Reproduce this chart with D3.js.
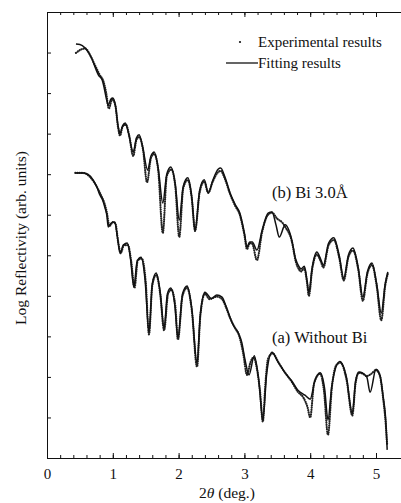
<!DOCTYPE html>
<meta charset="utf-8">
<style>
    body { margin: 0; background: #fff; }
    text { font-family: "Liberation Serif", "Times New Roman", serif; fill: #111; }
    .fit { fill: none; stroke: #111; stroke-width: 1.5px; }
    .exp { fill: none; stroke: #222; stroke-width: 2.2px; stroke-linecap: round; stroke-dasharray: 0.1 2.1; }
    .axis path, .axis line { stroke: #111; stroke-width: 1px; }
</style>
<svg id="f" width="401" height="503"></svg>
<script src="https://cdn.jsdelivr.net/npm/d3@7"></script>
<script>
    // fitting curves [2theta, log R]
    var fitB = [[0.44,10.21],[0.50,10.20],[0.58,10.11],[0.68,9.86],[0.74,9.60],[0.78,9.45],[0.84,9.32],[0.87,9.12],
        [0.90,8.88],[0.93,8.70],[0.97,8.85],[1.00,8.88],[1.04,8.70],[1.08,8.20],[1.11,8.01],[1.15,8.20],[1.19,8.26],
        [1.24,8.00],[1.31,7.55],[1.36,7.90],[1.40,7.97],[1.45,7.70],[1.53,7.10],[1.58,7.45],[1.63,7.55],[1.69,7.15],
        [1.76,6.29],[1.82,7.00],[1.88,7.18],[1.95,6.75],[2.01,5.87],[2.07,6.70],[2.14,6.91],[2.20,6.45],[2.25,5.62],
        [2.32,6.60],[2.39,6.86],[2.45,6.54],[2.52,6.85],[2.60,7.12],[2.64,7.15],[2.70,6.95],[2.78,6.55],[2.86,6.25],
        [2.93,6.04],[3.00,5.55],[3.04,5.20],[3.08,5.33],[3.12,5.33],[3.19,5.13],[3.27,5.62],[3.36,6.04],[3.42,6.07],
        [3.48,5.75],[3.53,5.45],[3.62,5.75],[3.72,5.38],[3.78,4.90],[3.83,4.72],[3.86,4.66],[3.91,4.73],[3.95,4.40],
        [3.98,4.09],[4.03,4.70],[4.10,5.08],[4.16,4.90],[4.20,4.76],[4.28,5.30],[4.36,5.43],[4.44,5.00],[4.51,4.44],
        [4.58,5.00],[4.65,5.18],[4.73,4.70],[4.80,3.97],[4.87,4.60],[4.94,4.81],[5.01,4.30],[5.08,3.58],[5.14,4.30],
        [5.18,4.59]];

    var expB = [[0.44,9.99],[0.50,10.06],[0.58,10.10],[0.66,9.92],[0.72,9.72],[0.80,9.45],[0.86,9.28],[0.90,9.00],
        [0.94,8.62],[0.99,8.85],[1.04,8.68],[1.08,8.15],[1.11,7.95],[1.15,8.18],[1.20,8.22],[1.25,7.95],[1.31,7.45],
        [1.36,7.85],[1.40,7.92],[1.46,7.60],[1.52,6.80],[1.58,7.40],[1.63,7.50],[1.69,7.10],[1.76,5.55],[1.82,6.95],
        [1.89,7.12],[1.95,6.70],[2.01,5.45],[2.07,6.65],[2.14,6.86],[2.20,6.40],[2.25,5.60],[2.32,6.55],[2.39,6.82],
        [2.45,6.54],[2.52,6.82],[2.60,7.05],[2.64,7.08],[2.70,6.90],[2.78,6.52],[2.86,6.22],[2.93,6.00],[3.00,5.50],
        [3.04,5.15],[3.08,5.30],[3.12,5.28],[3.19,4.88],[3.27,5.58],[3.36,6.00],[3.42,6.05],[3.50,5.90],[3.58,5.80],
        [3.62,5.70],[3.72,5.35],[3.78,4.85],[3.83,4.65],[3.86,4.60],[3.91,4.68],[3.95,4.35],[3.98,4.00],[4.03,4.65],
        [4.10,5.02],[4.16,4.85],[4.20,4.70],[4.28,5.25],[4.36,5.38],[4.44,4.95],[4.51,4.38],[4.58,4.95],[4.65,5.12],
        [4.73,4.65],[4.80,3.88],[4.87,4.55],[4.94,4.76],[5.01,4.25],[5.08,3.40],[5.14,4.25],[5.18,4.55]];

    var fitA = [[0.43,7.03],[0.55,7.03],[0.62,7.00],[0.70,6.86],[0.76,6.68],[0.80,6.50],[0.84,6.38],[0.88,6.18],
        [0.91,5.98],[0.93,5.70],[0.98,5.80],[1.03,5.82],[1.07,5.45],[1.11,5.06],[1.16,5.25],[1.22,5.30],[1.27,4.90],
        [1.32,4.22],[1.37,4.85],[1.43,4.95],[1.49,4.40],[1.55,3.11],[1.60,4.30],[1.66,4.56],[1.72,4.10],[1.78,3.21],
        [1.83,4.05],[1.88,4.19],[1.94,3.80],[1.99,2.98],[2.06,4.05],[2.13,4.24],[2.20,3.70],[2.28,2.34],[2.33,3.55],
        [2.40,4.09],[2.50,3.93],[2.58,4.02],[2.66,3.97],[2.72,3.75],[2.78,3.48],[2.83,3.28],[2.90,3.11],[2.96,2.85],
        [3.01,2.42],[3.07,2.05],[3.15,2.52],[3.22,1.90],[3.28,0.94],[3.34,2.10],[3.42,2.61],[3.50,2.40],[3.62,2.10],
        [3.72,1.90],[3.81,1.68],[3.92,1.55],[4.00,1.45],[4.07,1.90],[4.15,2.10],[4.22,1.70],[4.27,0.94],[4.33,1.80],
        [4.45,2.38],[4.55,2.00],[4.64,1.11],[4.69,1.90],[4.74,2.12],[4.86,2.00],[4.91,1.62],[5.00,2.19],[5.06,2.05],
        [5.11,1.50],[5.15,0.90],[5.17,0.20]];

    var expA = [[0.43,7.03],[0.55,7.03],[0.62,6.98],[0.70,6.84],[0.78,6.62],[0.83,6.45],[0.87,6.30],[0.91,6.05],
        [0.95,5.72],[1.00,5.82],[1.04,5.78],[1.08,5.35],[1.12,5.05],[1.17,5.25],[1.23,5.25],[1.28,4.85],[1.33,4.20],
        [1.38,4.88],[1.44,4.92],[1.50,4.35],[1.55,3.05],[1.60,4.25],[1.66,4.52],[1.72,4.05],[1.78,3.15],[1.84,4.05],
        [1.89,4.15],[1.95,3.75],[1.99,2.92],[2.06,4.00],[2.13,4.20],[2.20,3.65],[2.28,2.25],[2.33,3.50],[2.40,4.05],
        [2.47,3.92],[2.58,3.98],[2.66,3.92],[2.72,3.72],[2.78,3.46],[2.86,3.20],[2.92,3.02],[2.98,2.60],[3.04,2.05],
        [3.09,2.35],[3.14,2.48],[3.19,2.20],[3.24,1.60],[3.28,0.90],[3.32,1.85],[3.36,2.45],[3.43,2.58],[3.52,2.35],
        [3.62,2.10],[3.72,1.88],[3.81,1.64],[3.90,1.48],[3.96,1.25],[4.00,1.00],[4.06,1.85],[4.15,2.08],
        [4.21,1.65],[4.27,0.57],[4.33,1.75],[4.40,2.30],[4.46,2.35],[4.55,1.95],[4.64,1.05],[4.69,1.85],[4.74,2.10],
        [4.80,2.08],[4.86,2.02],[4.93,2.08],[5.00,2.17],[5.06,2.02],[5.11,1.45],[5.15,0.80],[5.17,0.30]];

    var xMajor = [0, 1, 2, 3, 4, 5];
    var xMinor = d3.range(0, 26).map(function (i) { return i * 0.2; });
    var yTicks = d3.range(0, 12);

    var svg = d3.select("#f"),
        margin = { top: 12, right: 0, bottom: 45, left: 47 },
        width = 401 - margin.left - margin.right,
        height = 503 - margin.top - margin.bottom,
        g = svg.append("g").attr("transform", "translate(" + margin.left + "," + margin.top + ")");

    var x = d3.scaleLinear().domain([0, width / 65.8]).range([0, width]),
        y = d3.scaleLinear().domain([0, 11]).range([height, 0]);

    // axes, ticks pointing inward
    g.append("g").attr("class", "axis")
        .attr("transform", "translate(0," + height + ")")
        .call(d3.axisBottom(x).tickValues(xMinor).tickSize(-3).tickSizeOuter(0).tickFormat(""));
    g.append("g").attr("class", "axis")
        .attr("transform", "translate(0," + height + ")")
        .call(d3.axisBottom(x).tickValues(xMajor).tickSize(-5).tickSizeOuter(0).tickPadding(10).tickFormat(d3.format("d")))
        .call(function (a) { a.select(".domain").remove(); a.selectAll("text").style("font-size", "15px").attr("fill", "#111"); });

    g.append("g").attr("class", "axis")
        .call(d3.axisTop(x).tickValues(xMinor).tickSize(-3).tickSizeOuter(0).tickFormat(""));
    g.append("g").attr("class", "axis")
        .call(d3.axisTop(x).tickValues(xMajor).tickSize(-5).tickSizeOuter(0).tickFormat(""))
        .call(function (a) { a.select(".domain").remove(); });

    g.append("g").attr("class", "axis")
        .call(d3.axisLeft(y).tickValues(yTicks).tickSize(-4).tickSizeOuter(0).tickFormat(""));

    svg.append("text")
        .attr("transform", "translate(26," + 238 + ") rotate(-90)")
        .attr("text-anchor", "middle")
        .style("font-size", "15.5px")
        .text("Log Reflectivity (arb. units)");

    var xl = svg.append("text")
        .attr("x", 227).attr("y", 498)
        .attr("text-anchor", "middle")
        .style("font-size", "15.5px");
    xl.append("tspan").text("2");
    xl.append("tspan").style("font-style", "italic").text("θ");
    xl.append("tspan").text(" (deg.)");

    var line = d3.line()
        .curve(d3.curveMonotoneX)
        .x(function (d) { return x(d[0]); })
        .y(function (d) { return y(d[1]); });

    [expB, expA].forEach(function (s) {
        g.append("path").attr("class", "exp").attr("d", line(s));
    });
    [fitB, fitA].forEach(function (s) {
        g.append("path").attr("class", "fit").attr("d", line(s));
    });

    // legend
    svg.append("circle").attr("cx", 240).attr("cy", 42).attr("r", 1.1).attr("fill", "#111");
    svg.append("text").attr("x", 258).attr("y", 47).style("font-size", "15px").text("Experimental results");
    svg.append("line").attr("x1", 226).attr("x2", 258).attr("y1", 63).attr("y2", 63)
        .attr("stroke", "#111").attr("stroke-width", 1.3);
    svg.append("text").attr("x", 258).attr("y", 68).style("font-size", "15px").text("Fitting results");

    svg.append("text").attr("x", 272).attr("y", 198).style("font-size", "16.5px").text("(b) Bi 3.0Å");
    svg.append("text").attr("x", 272).attr("y", 343).style("font-size", "16.5px").text("(a) Without Bi");
</script>
